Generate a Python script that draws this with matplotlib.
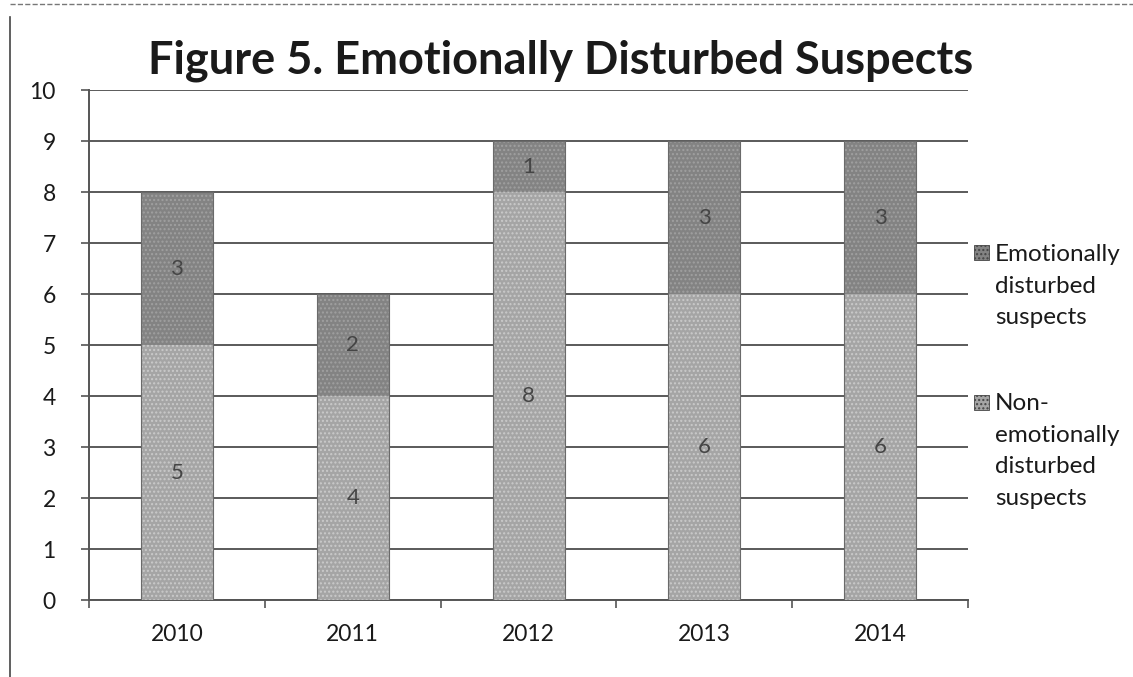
import matplotlib
matplotlib.use("Agg")
import matplotlib.pyplot as plt
import numpy as np
from matplotlib.lines import Line2D
from matplotlib.patches import Rectangle

years = ["2010", "2011", "2012", "2013", "2014"]
non_emotional = [5, 4, 8, 6, 6]
emotional = [3, 2, 1, 3, 3]
legend_labels = ["Emotionally\ndisturbed\nsuspects", "Non-\nemotionally\ndisturbed\nsuspects"]

plt.rcParams['font.family'] = ['Lato', 'DejaVu Sans']

fig = plt.figure(figsize=(11.33, 6.77), dpi=100)
ax = fig.add_axes([0.0786, 0.1137, 0.7758, 0.7533])

x = np.arange(len(years))
w = 0.41
c_low = "#a5a5a5"
c_high = "#838383"

ax.bar(x, non_emotional, w, color=c_low, hatch="....", edgecolor="#cacaca",
       linewidth=0, zorder=3)
ax.bar(x, emotional, w, bottom=non_emotional, color=c_high, hatch="....",
       edgecolor="#a0a0a0", linewidth=0, zorder=3)
# thin outline around each stacked column
ax.bar(x, np.add(non_emotional, emotional), w, fill=False, edgecolor="#6a6a6a",
       linewidth=0.8, zorder=3)

# value labels in the middle of each segment
for xi, lo, hi in zip(x, non_emotional, emotional):
    ax.text(xi, lo / 2, str(lo), ha="center", va="center", fontsize=16, color="#454545", zorder=4)
    ax.text(xi, lo + hi / 2, str(hi), ha="center", va="center", fontsize=16, color="#454545", zorder=4)

ax.set_xlim(-0.5, 4.5)
ax.set_ylim(0, 10)
ax.set_yticks(range(0, 11))
ax.yaxis.grid(True, color="#5a5a5a", linewidth=1.4, zorder=1)
ax.set_axisbelow(True)

ax.set_xticks(x)
ax.set_xticklabels(years)
ax.set_xticks(np.arange(-0.5, 5, 1), minor=True)
ax.tick_params(axis="x", which="major", length=0, pad=17, labelsize=16.5, labelcolor="#1a1a1a")
ax.tick_params(axis="x", which="minor", length=6, width=1.2, color="#555555", direction="out")
ax.tick_params(axis="y", length=6, width=1.2, color="#555555", pad=18, labelsize=16.5,
               labelcolor="#1a1a1a")

for s in ["top", "right"]:
    ax.spines[s].set_visible(False)
for s in ["left", "bottom"]:
    ax.spines[s].set_color("#555555")
    ax.spines[s].set_linewidth(1.4)

fig.text(0.495, 0.91, "Figure 5. Emotionally Disturbed Suspects", ha="center", va="center",
         fontsize=32.5, fontweight="bold", color="#1a1a1a")

# legend: small square swatch next to the first line of each wrapped label
legend_colors = [c_high, c_low]
legend_rows = [253, 402]
for lab, col, yrow in zip(legend_labels, legend_colors, legend_rows):
    yf = 1 - yrow / 677
    fig.add_artist(Rectangle((974 / 1133, yf - 7.5 / 677), 15 / 1133, 15 / 677,
                             transform=fig.transFigure, facecolor=col, hatch="....",
                             edgecolor="#444444", linewidth=0.6))
    fig.text(995 / 1133, yf + 9 / 677, lab, ha="left", va="top", fontsize=17.5,
             color="#1a1a1a", linespacing=1.63)

# page frame lines
fig.add_artist(Line2D([0.009, 0.009], [0.0, 0.975], color="#444444", linewidth=1.2))
fig.add_artist(Line2D([0.009, 1.0], [0.994, 0.994], color="#777777", linewidth=1.0, linestyle="--"))

fig.savefig("out.png", dpi=100)
